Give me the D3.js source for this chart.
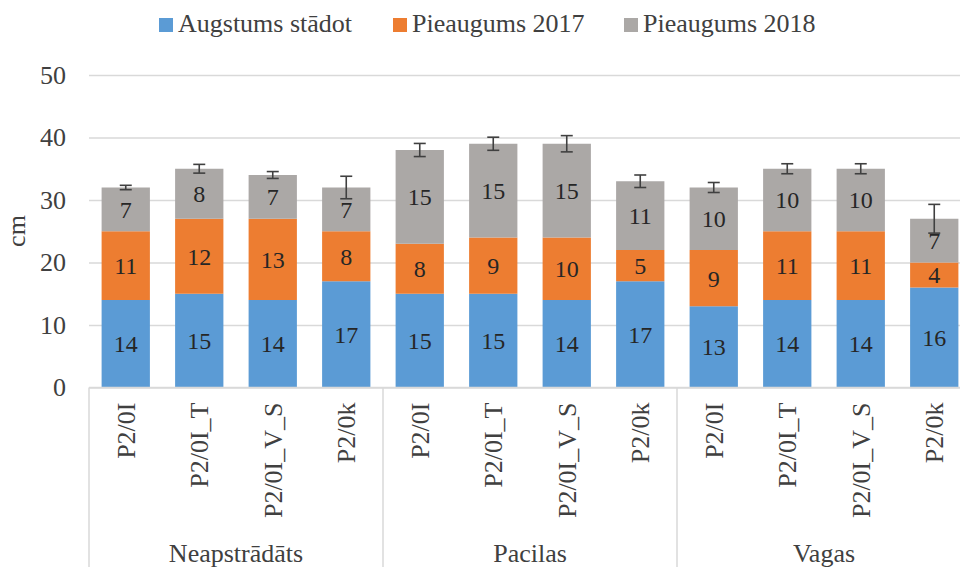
<!DOCTYPE html>
<html>
<head>
<meta charset="utf-8">
<script src="https://cdn.jsdelivr.net/npm/d3@7"></script>
<style>
  body { margin: 0; background: #fff; }
  svg { display: block; }
  svg text { font-family: "Liberation Serif", "Times New Roman", serif; }
</style>
</head>
<body>
<div id="chart"></div>
<script>
const groups = ['Neapstrādāts', 'Pacilas', 'Vagas'];
const treatments = ['P2/0I', 'P2/0I_T', 'P2/0I_V_S', 'P2/0k'];
const seriesNames = ['Augstums stādot', 'Pieaugums 2017', 'Pieaugums 2018'];
const augstums = [14, 15, 14, 17, 15, 15, 14, 17, 13, 14, 14, 16];
const pieaugums2017 = [11, 12, 13, 8, 8, 9, 10, 5, 9, 11, 11, 4];
const pieaugums2018 = [7, 8, 7, 7, 15, 15, 15, 11, 10, 10, 10, 7];
const errors = [0.35, 0.7, 0.55, 1.8, 1.05, 1.05, 1.3, 1.0, 0.8, 0.8, 0.8, 2.3];
const yTicks = [0, 10, 20, 30, 40, 50];

const colors = ['#5B9BD5', '#ED7D31', '#ABA8A6'];
const FONT = '"Liberation Serif", "Times New Roman", serif';

const W = 960, H = 567;
const margin = {top: 75, left: 89, bottom: 179.5};
const plotRight = 971;
const y0 = H - margin.bottom;

const rows = [];
groups.forEach((g, gi) => treatments.forEach((t, ti) => {
  const i = gi * treatments.length + ti;
  rows.push({key: g + '|' + t, group: g, treatment: t,
    a: augstums[i], p17: pieaugums2017[i], p18: pieaugums2018[i], err: errors[i]});
}));

const x = d3.scaleBand()
  .domain(rows.map(d => d.key))
  .range([margin.left, plotRight])
  .paddingInner(0.343)
  .paddingOuter(0.1715);

const y = d3.scaleLinear().domain([0, 50]).range([y0, margin.top]);

const stack = d3.stack().keys(['a', 'p17', 'p18']);
const layers = stack(rows);

const svg = d3.select('#chart').append('svg')
  .attr('width', W)
  .attr('height', H);

// gridlines + y ticks
const yAxis = d3.axisLeft(y).tickValues(yTicks).tickSize(-(plotRight - margin.left)).tickPadding(23);
svg.append('g')
  .attr('transform', 'translate(' + margin.left + ',0)')
  .call(yAxis)
  .call(g => g.select('.domain').remove())
  .call(g => g.selectAll('.tick line').attr('stroke', '#D9D9D9').attr('stroke-width', 1.5))
  .call(g => g.selectAll('.tick text')
    .attr('fill', '#404040')
    .attr('font-family', FONT)
    .attr('font-size', 26));

// y axis title
svg.append('text')
  .attr('transform', 'translate(25,231) rotate(-90)')
  .attr('text-anchor', 'middle')
  .attr('fill', '#404040')
  .attr('font-family', FONT)
  .attr('font-size', 26)
  .text('cm');

// bars
const layerG = svg.selectAll('.layer')
  .data(layers)
  .enter().append('g')
  .attr('class', 'layer')
  .attr('fill', (d, i) => colors[i]);

layerG.selectAll('rect')
  .data(d => d)
  .enter().append('rect')
  .attr('x', d => x(d.data.key))
  .attr('y', d => y(d[1]))
  .attr('width', x.bandwidth())
  .attr('height', d => y(d[0]) - y(d[1]));

// data labels
layerG.selectAll('text')
  .data(d => d)
  .enter().append('text')
  .attr('x', d => x(d.data.key) + x.bandwidth() / 2)
  .attr('y', d => y((d[0] + d[1]) / 2))
  .attr('dy', '0.35em')
  .attr('text-anchor', 'middle')
  .attr('fill', '#262626')
  .attr('font-family', FONT)
  .attr('font-size', 24)
  .text(d => d3.format('.0f')(d[1] - d[0]));

// error bars
const errG = svg.append('g').attr('stroke', '#404040').attr('stroke-width', 1.6);
rows.forEach(d => {
  const cx = x(d.key) + x.bandwidth() / 2;
  const top = d.a + d.p17 + d.p18;
  errG.append('line').attr('x1', cx).attr('x2', cx).attr('y1', y(top + d.err)).attr('y2', y(top - d.err));
  errG.append('line').attr('x1', cx - 6).attr('x2', cx + 6).attr('y1', y(top + d.err)).attr('y2', y(top + d.err));
  errG.append('line').attr('x1', cx - 6).attr('x2', cx + 6).attr('y1', y(top - d.err)).attr('y2', y(top - d.err));
});

// category axis
const axisG = svg.append('g').attr('stroke', '#D9D9D9').attr('stroke-width', 1.5);
axisG.append('line').attr('x1', margin.left).attr('x2', plotRight).attr('y1', y0).attr('y2', y0);
const groupEdges = groups.map(g => x(g + '|' + treatments[0]) - x.step() * x.paddingOuter());
groupEdges.push(plotRight);
groupEdges.forEach(ex => {
  axisG.append('line').attr('x1', ex).attr('x2', ex).attr('y1', y0).attr('y2', H);
});

// treatment labels
svg.append('g').selectAll('text')
  .data(rows)
  .enter().append('text')
  .attr('transform', d => 'translate(' + (x(d.key) + x.bandwidth() / 2) + ',' + (y0 + 15) + ') rotate(-90)')
  .attr('text-anchor', 'end')
  .attr('dy', '0.35em')
  .attr('fill', '#404040')
  .attr('font-family', FONT)
  .attr('font-size', 26)
  .text(d => d.treatment);

// group labels
svg.append('g').selectAll('text')
  .data(groups)
  .enter().append('text')
  .attr('x', (g, i) => (groupEdges[i] + groupEdges[i + 1]) / 2)
  .attr('y', 562)
  .attr('text-anchor', 'middle')
  .attr('fill', '#404040')
  .attr('font-family', FONT)
  .attr('font-size', 26)
  .text(g => g);

// legend
const legendX = [159, 393, 624];
const legend = svg.append('g').selectAll('g')
  .data(seriesNames)
  .enter().append('g')
  .attr('transform', (d, i) => 'translate(' + legendX[i] + ',18)');
legend.append('rect').attr('width', 14).attr('height', 14).attr('fill', (d, i) => colors[i]);
legend.append('text')
  .attr('x', 19)
  .attr('y', 14)
  .attr('fill', '#404040')
  .attr('font-family', FONT)
  .attr('font-size', 26)
  .text(d => d);
</script>
</body>
</html>
